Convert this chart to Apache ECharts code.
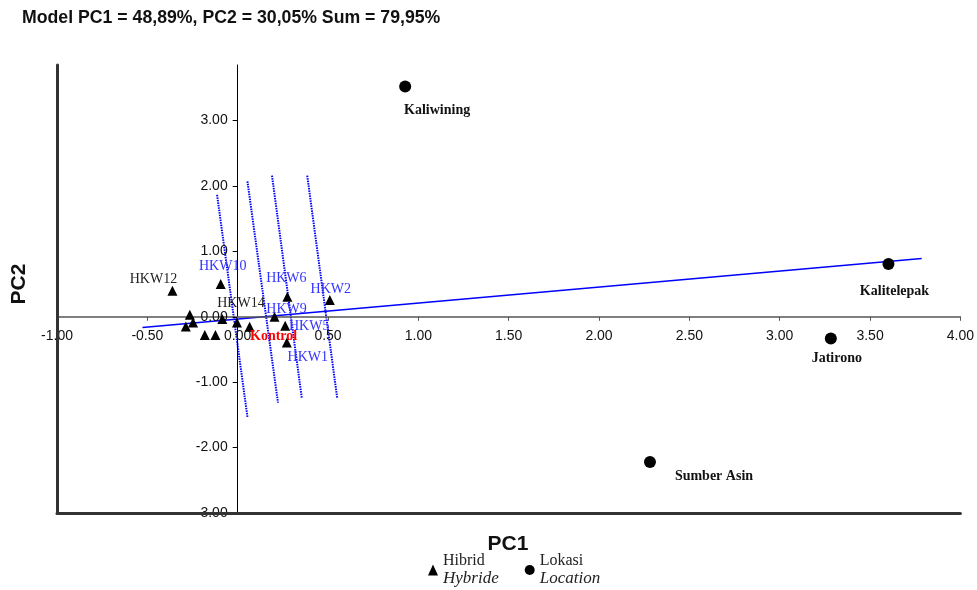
<!DOCTYPE html>
<html><head><meta charset="utf-8">
<script src="https://cdn.jsdelivr.net/npm/echarts@6/dist/echarts.min.js"></script>
<style>html,body{margin:0;padding:0;background:#fff}#c{width:977px;height:590px}</style>
</head><body><div id="c"></div>
<script>
// ---- data ----
const hybridNames = ['HKW12','HKW10','HKW6','HKW2','HKW14','HKW9','HKW5','Kontrol','HKW1','','','','','',''];
const hybridPC1   = [-0.361,-0.094,0.275,0.510,-0.004,0.204,0.263,0.066,0.272,-0.265,-0.287,-0.247,-0.182,-0.123,-0.085];
const hybridPC2   = [0.398,0.50,0.306,0.256,-0.087,0.0,-0.138,-0.153,-0.394,0.03,-0.15,-0.087,-0.28,-0.28,-0.035];

const siteNames = ['Kaliwining','Kalitelepak','Jatirono','Sumber Asin'];
const sitePC1   = [0.927,3.602,3.283,2.282];
const sitePC2   = [3.52,0.807,-0.332,-2.22];

const axisLinePC1 = [-0.527,3.786];
const axisLinePC2 = [-0.164,0.893];

const contourPC1 = [[-0.114,0.054],[0.054,0.223],[0.190,0.355],[0.385,0.551]];
const contourPC2 = [[1.864,-1.531],[2.072,-1.312],[2.159,-1.245],[2.159,-1.245]];

const xTicks = {min:-1, max:4, step:0.5};
const yTicks = {min:-3, max:3.85, step:1};

const titleText = 'Model PC1 = 48,89%, PC2 = 30,05% Sum = 79,95%';
const legendSub = {Hibrid:'Hybride', Lokasi:'Location'};

// ---- label layout (not data) ----
const hybridLabelOffsets = {HKW12:[-19,-11],HKW10:[2,-18],HKW6:[-1,-18],HKW2:[1,-11],HKW14:[4,-19],HKW9:[12,-7],HKW5:[24,1],Kontrol:[24,10],HKW1:[21,15]};
const hybridLabelColors = {HKW12:'#222',HKW14:'#222',Kontrol:'#ff0000'};
const siteLabelOffsets = {'Kaliwining':[32,24],'Kalitelepak':[6,27],'Jatirono':[6,20],'Sumber Asin':[64,14]};

const SERIF = '"Liberation Serif","Times New Roman",serif';
const SANS = '"Liberation Sans",Arial,sans-serif';

const hybridData = hybridNames.map((n,i)=>{
  const off = hybridLabelOffsets[n];
  return {
    name:n, value:[hybridPC1[i],hybridPC2[i]],
    label: off ? {show:true, position:'inside', offset:off, formatter:n,
      color: hybridLabelColors[n] || '#3333ff', fontFamily:SERIF, fontSize:14,
      fontWeight: n==='Kontrol' ? 'bold':'normal'} : {show:false}
  };
});
const siteData = siteNames.map((n,i)=>({
  name:n, value:[sitePC1[i],sitePC2[i]],
  label:{show:true, position:'inside', offset:siteLabelOffsets[n], formatter:n,
    color:'#111', fontFamily:SERIF, fontSize:14, fontWeight:'bold'}
}));

const contourSeries = contourPC1.map((xs,k)=>({
  type:'line', name:'c'+k, silent:true, symbol:'none', z:1,
  data: xs.map((x,j)=>[x, contourPC2[k][j]]),
  lineStyle:{color:'#0000ff', width:2, type:[1.5,1]}
}));

const fmt = v => v.toFixed(2);

const chart = echarts.init(document.getElementById('c'), null, {renderer:'canvas'});
chart.setOption({
  animation:false,
  backgroundColor:'#fff',
  grid:{left:57, right:15, top:65, bottom:77, containLabel:false},
  xAxis:[
    {type:'value', position:'bottom', min:xTicks.min, max:xTicks.max, interval:xTicks.step, offset:0,
     axisLine:{onZero:false, lineStyle:{color:'#555', width:1.5}},
     axisTick:{show:true, length:4, lineStyle:{color:'#555'}},
     axisLabel:{formatter:fmt, fontFamily:SANS, fontSize:14, color:'#111', margin:12},
     splitLine:{show:false}, z:3},
    {type:'value', position:'bottom', min:xTicks.min, max:xTicks.max,
     axisLine:{onZero:false, lineStyle:{color:'#333', width:3}},
     axisTick:{show:false}, axisLabel:{show:false}, splitLine:{show:false}, z:4}
  ],
  yAxis:[
    {type:'value', position:'left', min:yTicks.min, max:yTicks.max, interval:yTicks.step, offset:0,
     axisLine:{onZero:false, lineStyle:{color:'#000', width:1}},
     axisTick:{show:true, length:5, lineStyle:{color:'#000'}},
     axisLabel:{formatter:fmt, fontFamily:SANS, fontSize:14, color:'#111', margin:10, showMaxLabel:false},
     splitLine:{show:false}, z:3},
    {type:'value', position:'left', min:yTicks.min, max:yTicks.max,
     axisLine:{onZero:false, lineStyle:{color:'#333', width:3}},
     axisTick:{show:false}, axisLabel:{show:false}, splitLine:{show:false}, z:4}
  ],
  legend:{
    data:[{name:'Hibrid', icon:'triangle'},{name:'Lokasi', icon:'circle'}],
    left:428, top:553, padding:0, itemWidth:10, itemHeight:11, itemGap:26,
    selectedMode:false,
    formatter: n => '{a|'+n+'}\n{b|'+legendSub[n]+'}',
    textStyle:{rich:{
      a:{fontFamily:SERIF, fontSize:16, color:'#222', lineHeight:18},
      b:{fontFamily:SERIF, fontSize:17, fontStyle:'italic', color:'#222', lineHeight:18}
    }}
  },
  graphic:[
    {type:'text', x:22, y:18, style:{text:titleText, font:'bold 17.7px '+SANS, fill:'#111', verticalAlign:'middle', align:'left'}},
    {type:'text', x:508, y:544, style:{text:'PC1', font:'bold 21px '+SANS, fill:'#111', verticalAlign:'middle', align:'center'}},
    {type:'text', x:19, y:284, rotation:Math.PI/2, style:{text:'PC2', font:'bold 21px '+SANS, fill:'#111', verticalAlign:'middle', align:'center'}}
  ],
  series:[
    ...contourSeries,
    {type:'line', name:'fit', silent:true, symbol:'none', z:2,
     data: axisLinePC1.map((x,j)=>[x, axisLinePC2[j]]),
     lineStyle:{color:'#0000ff', width:1.5}},
    {type:'scatter', name:'Hibrid', symbol:'triangle', symbolSize:10, z:5,
     itemStyle:{color:'#000', opacity:1}, data:hybridData},
    {type:'scatter', name:'Lokasi', symbol:'circle', symbolSize:12, z:5,
     itemStyle:{color:'#000', opacity:1}, data:siteData}
  ]
});

// Move the main axes so they cross at zero, using the library's own scales.
const zeroX = chart.convertToPixel({xAxisIndex:0}, 0);
const leftX = chart.convertToPixel({xAxisIndex:0}, xTicks.min);
const zeroY = chart.convertToPixel({yAxisIndex:0}, 0);
const bottomY = chart.convertToPixel({yAxisIndex:0}, yTicks.min);
chart.setOption({
  xAxis:[{offset: -(bottomY - zeroY)}, {}],
  yAxis:[{offset: -(zeroX - leftX)}, {}]
});
</script></body></html>
